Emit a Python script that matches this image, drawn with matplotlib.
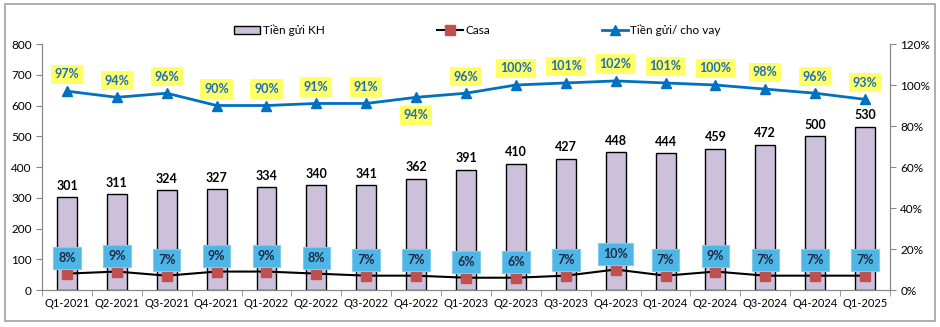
#!/usr/bin/env python3

import matplotlib.pyplot as plt
from matplotlib.patches import Rectangle

quarters = ["Q1-2021", "Q2-2021", "Q3-2021", "Q4-2021", "Q1-2022", "Q2-2022",
            "Q3-2022", "Q4-2022", "Q1-2023", "Q2-2023", "Q3-2023", "Q4-2023",
            "Q1-2024", "Q2-2024", "Q3-2024", "Q4-2024", "Q1-2025"]
deposits = [301, 311, 324, 327, 334, 340, 341, 362, 391, 410, 427, 448,
            444, 459, 472, 500, 530]
casa = [8, 9, 7, 9, 9, 8, 7, 7, 6, 6, 7, 10, 7, 9, 7, 7, 7]
ldr = [97, 94, 96, 90, 90, 91, 91, 94, 96, 100, 101, 102, 101, 100, 98, 96, 93]

plt.rcParams["font.family"] = ["Lato", "DejaVu Sans"]
plt.rcParams["font.size"] = 8.5

fig = plt.figure(figsize=(9.4, 3.27), dpi=100)
ax = fig.add_axes([0.0447, 0.1131, 0.9021, 0.7523])
ax2 = ax.twinx()

x = list(range(len(quarters)))
bars = ax.bar(x, deposits, width=0.4, color="#CCC0DA", edgecolor="black",
              linewidth=1.0, label="Tiền gửi KH", zorder=2)
for xi, v in zip(x, deposits):
    ax.annotate(str(v), (xi, v), xytext=(0, 4), textcoords="offset points",
                ha="center", va="bottom", fontweight="bold", fontsize=9)

casa_line, = ax2.plot(x, casa, color="black", linewidth=1.5, marker="s",
                      markersize=6.5, markerfacecolor="#C0504D",
                      markeredgecolor="#C0504D", label="Casa", zorder=3)
ldr_line, = ax2.plot(x, ldr, color="#0070C0", linewidth=2, marker="^",
                     markersize=7.5, label="Tiền gửi/ cho vay", zorder=3)

for xi, v in zip(x, casa):
    ax2.annotate(f"{v}%", (xi, v), xytext=(0, 11), textcoords="offset points",
                 ha="center", va="center", fontweight="bold", fontsize=9,
                 color="#1F2A44",
                 bbox=dict(boxstyle="square,pad=0.4", facecolor="#4DB6E6",
                           edgecolor="#7FCBEE", linewidth=0.8), zorder=4)

for i, (xi, v) in enumerate(zip(x, ldr)):
    dy = -13 if quarters[i] == "Q4-2022" else 12
    ax2.annotate(f"{v}%", (xi, v), xytext=(0, dy), textcoords="offset points",
                 ha="center", va="center", fontweight="bold", fontsize=9,
                 color="#1F6FB4",
                 bbox=dict(boxstyle="square,pad=0.3", facecolor="#FFFF66",
                           edgecolor="none"), zorder=4)

ax.set_xlim(-0.5, len(quarters) - 0.5)
ax.set_ylim(0, 800)
ax.set_yticks(range(0, 801, 100))
ax2.set_ylim(0, 120)
ax2.set_yticks(range(0, 121, 20))
ax2.set_yticklabels([f"{t}%" for t in range(0, 121, 20)])

ax.set_xticks(x)
ax.set_xticklabels(quarters, fontsize=8)
ax.set_xticks([i + 0.5 for i in range(-1, len(quarters))], minor=True)
ax.tick_params(axis="x", which="major", length=0, pad=6)
ax.tick_params(axis="x", which="minor", length=4, color="#888888")
ax.tick_params(axis="y", length=4, color="#888888")
ax2.tick_params(axis="y", length=4, color="#888888")

for a in (ax, ax2):
    a.spines["top"].set_visible(False)
    for s in ("left", "right", "bottom"):
        a.spines[s].set_color("#888888")

ax.legend([bars, casa_line, ldr_line],
          ["Tiền gửi KH", "Casa", "Tiền gửi/ cho vay"],
          loc="center", bbox_to_anchor=(0.508, 0.908),
          bbox_transform=fig.transFigure, ncol=3, frameon=False,
          columnspacing=9.5, handlelength=2.2, handletextpad=0.2, fontsize=8.5)

fig.patches.append(Rectangle((5 / 940, 1 - 321 / 327), 930 / 940, 317 / 327,
                             transform=fig.transFigure, fill=False,
                             edgecolor="#A0A0A0", linewidth=1.2))

fig.savefig("out.png", dpi=100)
